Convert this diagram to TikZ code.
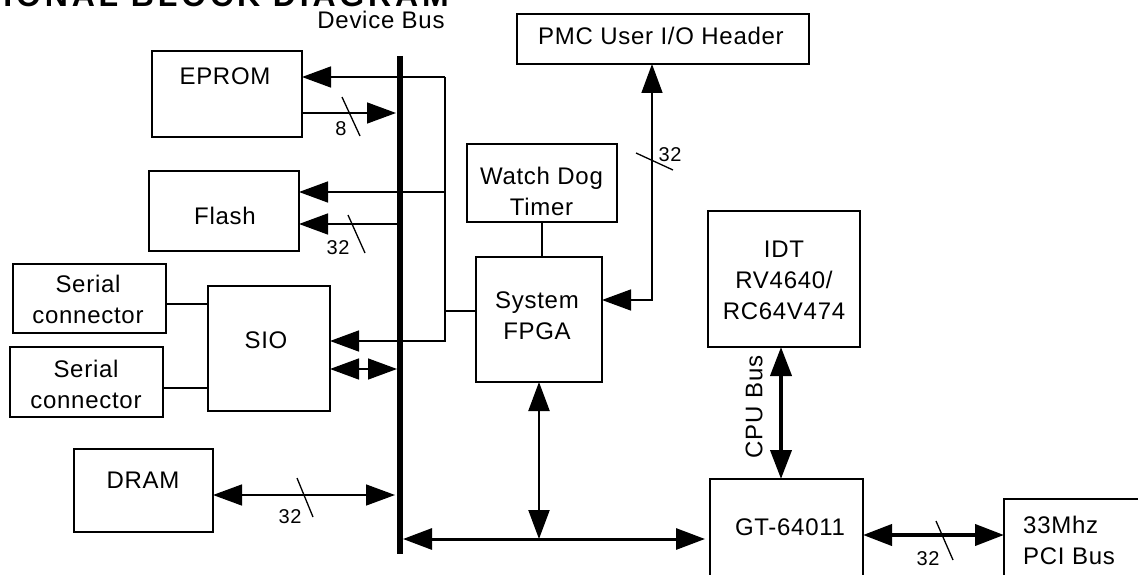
\documentclass[tikz,border=0pt]{standalone}
\usepackage{fontspec}
\setmainfont{Liberation Sans}
\newfontfamily\lsfont{Liberation Sans}[LetterSpace=3]
\newfontfamily\tlfont{Liberation Sans}[LetterSpace=12]
\newcommand\mylbl{\lsfont\fontsize{24}{31}\selectfont}
\newcommand\mynum{\lsfont\fontsize{20}{22}\selectfont}
\newcommand\mytitle{\tlfont\bfseries\fontsize{32}{36}\selectfont}
\usetikzlibrary{arrows.meta}
\tikzset{
  box/.style={draw, line width=1.3pt, inner sep=0pt, outer sep=0pt},
  txt/.style={font=\mylbl, inner sep=0pt, align=center},
  num/.style={font=\mynum, inner sep=0pt},
  ln/.style={line width=1.5pt},
  slash/.style={line width=1.3pt},
}
\begin{document}
\begin{tikzpicture}[x=1pt,y=-1pt,>={Triangle[length=29pt,width=21pt]},line join=miter]
\useasboundingbox (0,0) rectangle (1138,575);
\begin{scope}
\clip (0,0) rectangle (1138,575);
\fill[white] (0,0) rectangle (1138,575);
% title (cut off at top)
\node[font=\mytitle, anchor=base east, inner sep=0pt] (title) at (449,7) {FUNCTIONAL BLOCK DIAGRAM};
% device bus
\coordinate (busT) at (400,56);
\coordinate (busB) at (400,554);
\draw[line width=6pt] (busT) -- (busB);
\node[txt] (devbus) at (381,20) {Device Bus};
% boxes
\node[box, minimum width=150pt, minimum height=86pt] (eprom) at (227,94) {};
\node[box, minimum width=150pt, minimum height=80pt] (flash) at (224,211) {};
\node[box, minimum width=153pt, minimum height=69pt] (ser1) at (89.5,298.5) {};
\node[box, minimum width=153pt, minimum height=70pt] (ser2) at (86.5,382) {};
\node[box, minimum width=122pt, minimum height=125pt] (sio) at (269,348.5) {};
\node[box, minimum width=139pt, minimum height=83pt] (dram) at (143.5,490.5) {};
\node[box, minimum width=150pt, minimum height=78pt] (wdt) at (542,183) {};
\node[box, minimum width=126pt, minimum height=125pt] (fpga) at (539,319.5) {};
\node[box, minimum width=292pt, minimum height=50pt] (pmc) at (663,39) {};
\node[box, minimum width=152pt, minimum height=136pt] (idt) at (784,279) {};
\node[box, minimum width=153pt, minimum height=161pt] (gt) at (786.5,559.5) {};
\node[box, minimum width=196pt, minimum height=141pt] (pcib) at (1102,569.5) {};
\draw[line width=2.6pt] (pcib.north west) -- (pcib.north east);
% box texts
\node[txt] (teprom) at (225,76) {EPROM};
\node[txt] (tflash) at (225,216) {Flash};
\node[txt] (tser1) at (88,299.5) {Serial\\connector};
\node[txt] (tser2) at (86,384.5) {Serial\\connector};
\node[txt] (tsio) at (266,340) {SIO};
\node[txt] (tdram) at (143,480) {DRAM};
\node[txt] (twdt) at (541.5,191) {Watch Dog\\Timer};
\node[txt] (tfpga) at (537,316) {System\\FPGA};
\node[txt] (tpmc) at (661,36) {PMC User I/O Header};
\node[txt] (tidt) at (784,280.5) {IDT\\RV4640/\\RC64V474};
\node[txt] (tgt) at (790,527) {GT-64011};
\node[txt, align=left, anchor=west] (tpci) at (1023,540) {33Mhz\\PCI Bus};
\node[txt, rotate=90] (cpubus) at (754,407) {CPU Bus};
% rail and helper coordinates
\coordinate (rT) at (445,77);
\coordinate (rB) at (445,341);
\coordinate (r192) at (445,192);
\coordinate (r311) at (445,311);
\coordinate (b113) at (396,113);
\coordinate (b224) at (397,224);
\coordinate (b369) at (397,369);
\coordinate (b495) at (395,495);
\coordinate (b539) at (403,539);
\coordinate (s1) at (0,304);
\coordinate (s2) at (0,388);
\coordinate (p) at (652,300);
\coordinate (cpu) at (781,0);
\coordinate (pci) at (0,535);
% connectors
\draw[ln,->] (rT) -- (eprom.east |- rT);
\draw[ln,->] (eprom.east |- b113) -- (b113);
\draw[ln,->] (r192) -- (flash.east |- r192);
\draw[ln,->] (b224) -- (flash.east |- b224);
\draw[ln,->] (rT) -- (rB) -- (sio.east |- rB);
\draw[ln] (r311) -- (fpga.west |- r311);
\draw[ln,<->] (sio.east |- b369) -- (b369);
\draw[line width=2pt] (ser1.east |- s1) -- (sio.west |- s1);
\draw[line width=1.3pt] (ser2.east |- s2) -- (sio.west |- s2);
\draw[ln,<->] (dram.east |- b495) -- (b495);
\draw[line width=3pt,<->] (b539) -- ([xshift=-5pt]gt.west |- b539);
\draw[line width=2.2pt,<->] (fpga.south) -- (fpga.south |- b539);
\draw[ln] (wdt.south) -- (wdt.south |- fpga.north);
\draw[ln,<->] (fpga.east |- p) -- (p) -- (pmc.south -| p);
\draw[line width=4pt,<->] (idt.south -| cpu) -- (gt.north -| cpu);
\draw[line width=4pt,<->] (gt.east |- pci) -- (pcib.west |- pci);
% bus width marks
\draw[slash] (342,97) -- (360,136);
\node[num] (n8) at (341,128.5) {8};
\draw[slash] (348,215) -- (365,253);
\node[num] (n32a) at (338,248) {32};
\draw[slash] (636,153) -- (673,170);
\node[num] (n32b) at (670,155) {32};
\draw[slash] (297,478) -- (313,517);
\node[num] (n32c) at (290,517) {32};
\draw[slash] (936,521) -- (953,560);
\node[num] (n32d) at (928,559) {32};
\end{scope}
\end{tikzpicture}
\end{document}
